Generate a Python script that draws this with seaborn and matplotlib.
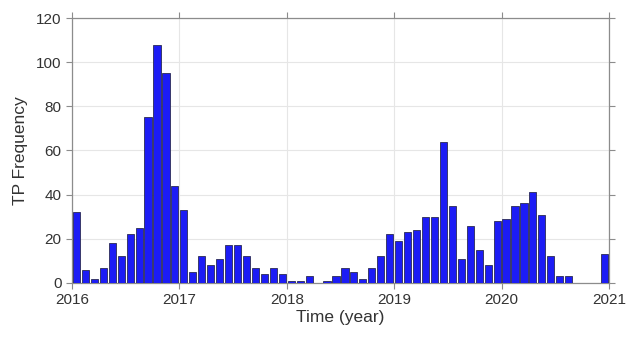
import numpy as np
import pandas as pd
import matplotlib
matplotlib.use("Agg")
import matplotlib.pyplot as plt
import seaborn as sns

# Monthly TP counts, Jan 2016 .. Dec 2020
counts_2016 = [32, 6, 2, 7, 18, 12, 22, 25, 75, 108, 95, 44]
counts_2017 = [33, 5, 12, 8, 11, 17, 17, 12, 7, 4, 7, 4]
counts_2018 = [1, 1, 3, 0, 1, 3, 7, 5, 2, 7, 12, 22]
counts_2019 = [19, 23, 24, 30, 30, 64, 35, 11, 26, 15, 8, 28]
counts_2020 = [29, 35, 36, 41, 31, 12, 3, 3, 0, 0, 0, 13]

years = [2016, 2017, 2018, 2019, 2020]
year_ticks = [2016, 2017, 2018, 2019, 2020, 2021]
y_ticks = [0, 20, 40, 60, 80, 100, 120]

counts = counts_2016 + counts_2017 + counts_2018 + counts_2019 + counts_2020
# mid-month positions in decimal years
time = [y + (m + 0.5) / 12 for y in years for m in range(12)]
df = pd.DataFrame({"time": time, "count": counts})

sns.set_style("white")
plt.rcParams["font.family"] = ["Liberation Sans", "DejaVu Sans"]

fig = plt.figure(figsize=(6.28, 3.39), dpi=100)
ax = fig.add_axes([0.1146, 0.1652, 0.9697 - 0.1146, 0.9469 - 0.1652])

sns.barplot(data=df, x="time", y="count", native_scale=True, width=0.8,
            color="#1c1cf5", edgecolor="#2a2a55", linewidth=0.6,
            saturation=1, ax=ax, zorder=3)

ax.set_xlim(2016, 2021)
ax.set_ylim(0, 120)
ax.set_xticks(year_ticks)
ax.set_xticklabels([str(t) for t in year_ticks])
ax.set_yticks(y_ticks)
ax.grid(True, color="#e6e6e6", linewidth=0.8, zorder=0)
ax.set_axisbelow(True)

spine_c = "#8c8c8c"
for s in ax.spines.values():
    s.set_visible(True)
    s.set_color(spine_c)
    s.set_linewidth(0.9)
ax.tick_params(axis="both", which="both", direction="out", length=4,
               color=spine_c, labelsize=11, labelcolor="#333333",
               top=True, right=True, bottom=True, left=True,
               labeltop=False, labelright=False)
ax.set_xlabel("Time (year)", fontsize=12.5, color="#333333", labelpad=2)
ax.set_ylabel("TP Frequency", fontsize=12.5, color="#333333", labelpad=6)

fig.savefig("out.png", dpi=100)
